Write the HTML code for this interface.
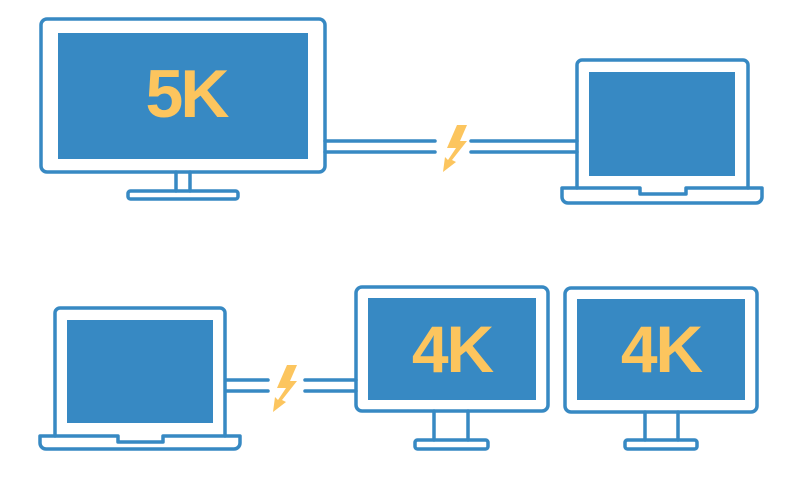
<!DOCTYPE html>
<html><head><style>html,body{margin:0;padding:0;background:#fff;}svg{display:block}</style></head>
<body>
<svg width="800" height="497" viewBox="0 0 800 497" xmlns="http://www.w3.org/2000/svg">
<g fill="none" stroke="#3789c3" stroke-width="3.5" stroke-linecap="round" stroke-linejoin="round">
  <!-- 5K monitor -->
  <rect x="41" y="19" width="284" height="153" rx="6"/>
  <path d="M176,172 V191 M190,172 V191"/>
  <rect x="128" y="191" width="110" height="8" rx="2.5"/>
  <!-- top cables -->
  <path d="M325,141 H435 M325,152 H435 M471,141 H577 M471,152 H577"/>
  <!-- laptop top -->
  <path d="M577,188 V65 a5,5 0 0 1 5,-5 H743 a5,5 0 0 1 5,5 V188"/>
  <path d="M562,188 H640 V194 H686 V188 H762 V197 a6,6 0 0 1 -6,6 H568 a6,6 0 0 1 -6,-6 Z"/>
  <!-- laptop bottom -->
  <path d="M55,436 V313 a5,5 0 0 1 5,-5 H220 a5,5 0 0 1 5,5 V436"/>
  <path d="M40,436 H118 V442 H163 V436 H240 V443 a6,6 0 0 1 -6,6 H46 a6,6 0 0 1 -6,-6 Z"/>
  <!-- bottom cables -->
  <path d="M226,380 H268 M226,391 H268 M305,380 H356 M305,391 H356"/>
  <!-- 4K monitor 1 -->
  <rect x="356" y="287" width="192" height="124" rx="6"/>
  <path d="M434,411 V440 M468,411 V440"/>
  <rect x="415" y="440" width="73" height="9" rx="2.5"/>
  <!-- 4K monitor 2 -->
  <rect x="565" y="288" width="192" height="124" rx="6"/>
  <path d="M645,412 V440 M678,412 V440"/>
  <rect x="625" y="440" width="72" height="9" rx="2.5"/>
</g>
<g fill="#3789c3">
  <rect x="58" y="33" width="250" height="126"/>
  <rect x="589" y="72" width="146" height="104"/>
  <rect x="67" y="320" width="146" height="103"/>
  <rect x="368" y="298" width="168" height="102"/>
  <rect x="577" y="299" width="168" height="101"/>
</g>
<g fill="#fcc55e">
  <path d="M457,125 L467,125 L460,141 L467,141 L452,160 L456,162 L443,172 L445,157 L448,160 L456,148 L447,148 Z"/>
  <path transform="translate(-170,240)" d="M457,125 L467,125 L460,141 L467,141 L452,160 L456,162 L443,172 L445,157 L448,160 L456,148 L447,148 Z"/>
</g>
<g fill="#fcc55e" font-family="Liberation Sans, sans-serif" font-weight="bold" text-anchor="middle">
  <text x="186" y="117" font-size="68" letter-spacing="-3">5K</text>
  <text x="452" y="372" font-size="66" letter-spacing="-2">4K</text>
  <text x="661" y="372" font-size="66" letter-spacing="-2">4K</text>
</g>
</svg>
</body></html>
